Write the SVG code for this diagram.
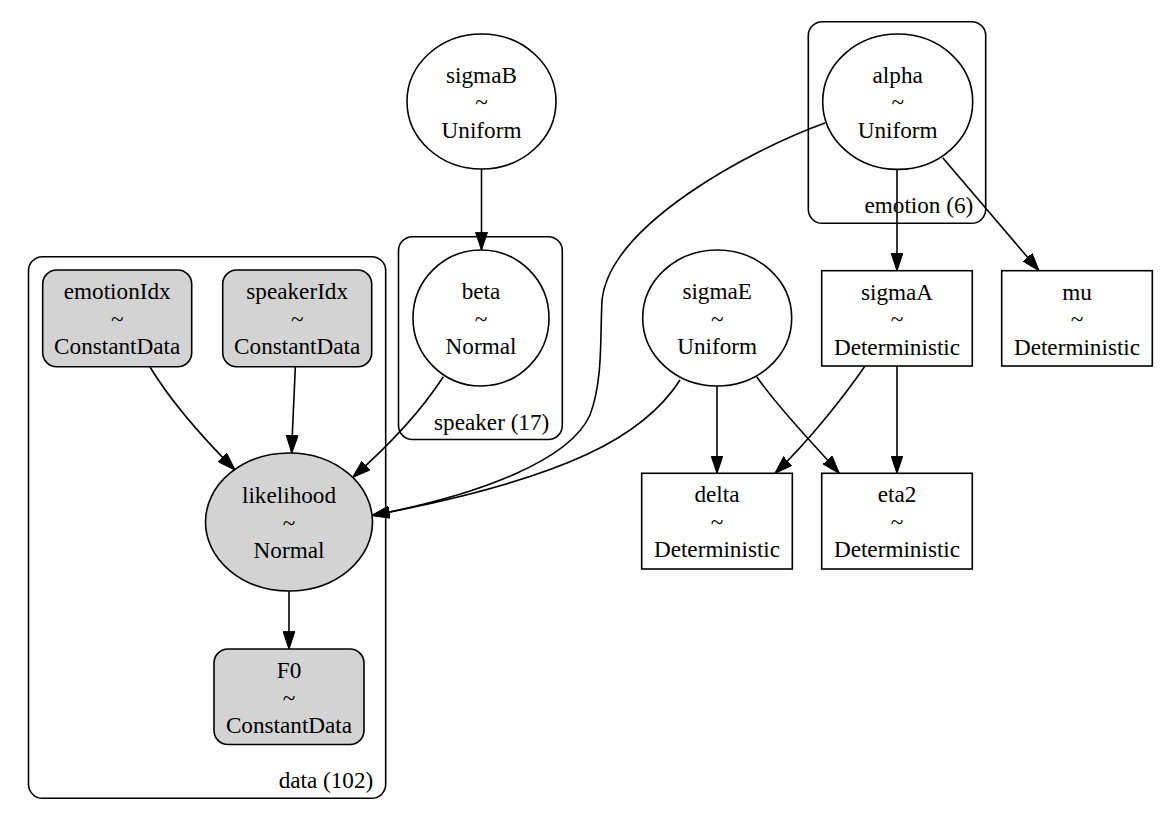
<svg xmlns="http://www.w3.org/2000/svg" width="1176" height="817" viewBox="0 0 1176 817">
<style>
text{font-family:"Liberation Serif","Times New Roman",serif;font-size:23.2px;fill:#000;text-anchor:middle}
.cl{text-anchor:end}
.cluster{fill:none;stroke:#000;stroke-width:1.6}
.n{fill:#fff;stroke:#000;stroke-width:1.6}
.obs{fill:#d3d3d3;stroke:#000;stroke-width:1.6}
.e{fill:none;stroke:#000;stroke-width:1.6;marker-end:url(#arr)}
</style>
<defs>
<marker id="arr" viewBox="0 0 18.5 12.6" refX="17.8" refY="6.3" markerWidth="18.5" markerHeight="12.6" orient="auto" markerUnits="userSpaceOnUse">
<path d="M0,0.3 L18,6.3 L0,12.3 z" fill="#000" stroke="#000" stroke-width="1"/>
</marker>
</defs>
<rect width="1176" height="817" fill="#fff"/>
<g id="clusters">
<g id="cluster_data"><rect class="cluster" x="28.5" y="256.7" width="357.2" height="541.6" rx="14"/><text class="cl" x="373.3" y="788">data (102)</text></g>
<g id="cluster_speaker"><rect class="cluster" x="398.5" y="236.7" width="163.8" height="202.8" rx="14"/><text class="cl" x="549.3" y="429.5">speaker (17)</text></g>
<g id="cluster_emotion"><rect class="cluster" x="808.3" y="21.7" width="177.4" height="201.6" rx="14"/><text class="cl" x="973.3" y="213">emotion (6)</text></g>
</g>
<g id="edges">
<path class="e" d="M481.5,169 L481.5,250"/>
<path class="e" d="M443.3,376.7 C425,405 395,440 352.7,477.3"/>
<path class="e" d="M150,367 C170,400 205,440 235,470"/>
<path class="e" d="M295.3,367 C294,400 292.5,425 291.7,453"/>
<path class="e" d="M825,123 C750,150 610,225 602,300 C600,340 603,380 590,415 C570,460 480,495 372,515.5"/>
<path class="e" d="M680,380 C645,435 570,478 372,515.5"/>
<path class="e" d="M717,386 L717,473.3"/>
<path class="e" d="M756.7,376.7 C780,410 810,440 839.3,473.3"/>
<path class="e" d="M897,169.3 L897,270.7"/>
<path class="e" d="M942.7,157.7 L1039,270.7"/>
<path class="e" d="M865,366 C845,395 810,440 775,473.3"/>
<path class="e" d="M897,366 L897,473.3"/>
<path class="e" d="M289,591 L289,649"/>
</g>
<g id="sigmaB"><ellipse class="n" cx="481.5" cy="101.5" rx="74.5" ry="67.5"/><text x="481.5" y="82.5">sigmaB</text><text x="481.5" y="110">~</text><text x="481.5" y="137.5">Uniform</text></g>
<g id="beta"><ellipse class="n" cx="481" cy="318" rx="68" ry="68"/><text x="481" y="299">beta</text><text x="481" y="326.5">~</text><text x="481" y="354">Normal</text></g>
<g id="alpha"><ellipse class="n" cx="897.7" cy="101.7" rx="75" ry="67.7"/><text x="897.7" y="82.7">alpha</text><text x="897.7" y="110.2">~</text><text x="897.7" y="137.7">Uniform</text></g>
<g id="sigmaE"><ellipse class="n" cx="717.2" cy="318" rx="74.5" ry="68"/><text x="717.2" y="299">sigmaE</text><text x="717.2" y="326.5">~</text><text x="717.2" y="354">Uniform</text></g>
<g id="sigmaA"><rect class="n" x="821.7" y="270.7" width="150.6" height="95.3"/><text x="897" y="299.5">sigmaA</text><text x="897" y="327">~</text><text x="897" y="354.5">Deterministic</text></g>
<g id="mu"><rect class="n" x="1001.7" y="270.7" width="150.6" height="95.3"/><text x="1077" y="299.5">mu</text><text x="1077" y="327">~</text><text x="1077" y="354.5">Deterministic</text></g>
<g id="delta"><rect class="n" x="641.7" y="473.3" width="150.6" height="95.7"/><text x="717" y="502">delta</text><text x="717" y="529.5">~</text><text x="717" y="557">Deterministic</text></g>
<g id="eta2"><rect class="n" x="821.7" y="473.3" width="150.6" height="95.7"/><text x="897" y="502">eta2</text><text x="897" y="529.5">~</text><text x="897" y="557">Deterministic</text></g>
<g id="emotionIdx"><rect class="obs" x="42.7" y="270" width="149" height="96.7" rx="14"/><text x="117.2" y="299">emotionIdx</text><text x="117.2" y="326.5">~</text><text x="117.2" y="354">ConstantData</text></g>
<g id="speakerIdx"><rect class="obs" x="222.7" y="270" width="149" height="96.7" rx="14"/><text x="297.2" y="299">speakerIdx</text><text x="297.2" y="326.5">~</text><text x="297.2" y="354">ConstantData</text></g>
<g id="likelihood"><ellipse class="obs" cx="289" cy="522" rx="83.5" ry="69"/><text x="289" y="503">likelihood</text><text x="289" y="530.5">~</text><text x="289" y="558">Normal</text></g>
<g id="F0"><rect class="obs" x="214" y="649" width="150" height="95.5" rx="14"/><text x="289" y="678">F0</text><text x="289" y="705.5">~</text><text x="289" y="733">ConstantData</text></g>
</svg>
